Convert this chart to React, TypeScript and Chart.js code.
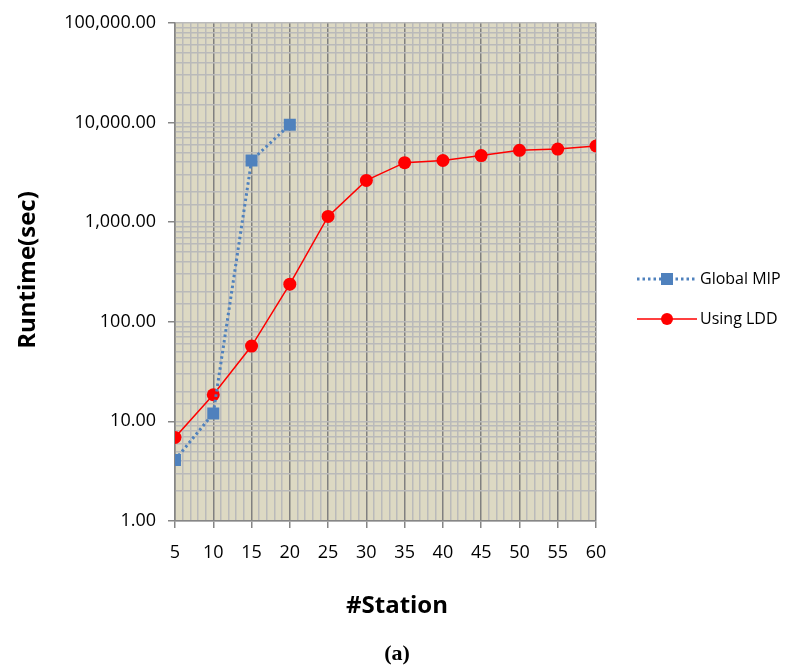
import React, { useEffect, useRef } from "react";
import { Chart, registerables } from "chart.js";

Chart.register(...registerables);

const stationsMIP = [5, 10, 15, 20];
const runtimeMIP = [4.1, 12, 4150, 9500];
const stationsLDD = [5, 10, 15, 20, 25, 30, 35, 40, 45, 50, 55, 60];
const runtimeLDD = [6.9, 18.5, 57, 238, 1140, 2620, 3950, 4150, 4650, 5250, 5400, 5800];
const seriesNames = ["Global MIP", "Using LDD"];
const xTitle = "#Station";
const yTitle = "Runtime(sec)";

const FONT = "'Open Sans', 'Noto Sans', sans-serif";
const BG = "rgb(221,217,195)";
const MINOR = "rgb(186,186,186)";
const MAJOR = "rgb(128,128,128)";
const AXIS = "rgb(134,134,134)";
const BLUE = "rgb(79,129,189)";
const RED = "rgb(255,0,0)";

const isDecade = (v: number) => {
  const r = v / Math.pow(10, Math.round(Math.log10(v)));
  return Math.abs(r - 1) < 1e-9;
};

const bgPlugin = {
  id: "plotBg",
  beforeDraw(chart: any) {
    const { ctx, chartArea: a } = chart;
    ctx.save();
    ctx.fillStyle = BG;
    ctx.fillRect(a.left, a.top, a.right - a.left, a.bottom - a.top);
    ctx.restore();
  },
};

const titlesPlugin = {
  id: "axisTitles",
  afterDraw(chart: any) {
    const { ctx } = chart;
    ctx.save();
    ctx.fillStyle = "#000";
    ctx.font = `bold 24px ${FONT}`;
    ctx.textAlign = "center";
    ctx.textBaseline = "middle";
    ctx.fillText(xTitle, 397, 606);
    ctx.translate(28, 270);
    ctx.rotate(-Math.PI / 2);
    ctx.fillText(yTitle, 0, 0);
    ctx.restore();
  },
};

const legendPlugin = {
  id: "customLegend",
  afterDraw(chart: any) {
    const { ctx } = chart;
    const rows = [279, 319];
    chart.data.datasets.forEach((ds: any, i: number) => {
      const y = rows[i];
      const x1 = 637;
      const x2 = 697;
      const cx = (x1 + x2) / 2;
      ctx.save();
      ctx.strokeStyle = ds.borderColor;
      ctx.lineWidth = ds.borderWidth;
      ctx.setLineDash(ds.borderDash || []);
      ctx.beginPath();
      ctx.moveTo(x1, y);
      ctx.lineTo(x2, y);
      ctx.stroke();
      ctx.setLineDash([]);
      ctx.fillStyle = ds.pointBackgroundColor;
      if (ds.pointStyle === "rect") {
        const s = 12;
        ctx.fillRect(cx - s / 2, y - s / 2, s, s);
      } else {
        ctx.beginPath();
        ctx.arc(cx, y, 6, 0, Math.PI * 2);
        ctx.fill();
      }
      ctx.fillStyle = "#000";
      ctx.font = `16px ${FONT}`;
      ctx.textAlign = "left";
      ctx.textBaseline = "middle";
      ctx.fillText(ds.label, x2 + 3, y);
      ctx.restore();
    });
  },
};

export default function App() {
  const ref = useRef<HTMLCanvasElement | null>(null);

  useEffect(() => {
    if (!ref.current) return;
    const chart = new Chart(ref.current, {
      type: "line",
      data: {
        datasets: [
          {
            label: seriesNames[0],
            data: stationsMIP.map((x, i) => ({ x, y: runtimeMIP[i] })),
            borderColor: BLUE,
            backgroundColor: BLUE,
            borderWidth: 3,
            borderDash: [2.5, 3],
            pointStyle: "rect",
            pointRadius: 8.5,
            pointBackgroundColor: BLUE,
            pointBorderColor: BLUE,
            pointBorderWidth: 0,
            tension: 0,
          },
          {
            label: seriesNames[1],
            data: stationsLDD.map((x, i) => ({ x, y: runtimeLDD[i] })),
            borderColor: RED,
            backgroundColor: RED,
            borderWidth: 1.5,
            pointStyle: "circle",
            pointRadius: 6.5,
            pointBackgroundColor: RED,
            pointBorderColor: RED,
            pointBorderWidth: 0,
            tension: 0,
          },
        ],
      },
      options: {
        responsive: false,
        animation: false,
        layout: { padding: { left: 0, right: 198, top: 22, bottom: 0 } },
        plugins: { legend: { display: false }, tooltip: { enabled: false } },
        scales: {
          x: {
            type: "linear",
            min: 5,
            max: 60,
            afterFit: (s: any) => {
              s.height = 147;
            },
            border: { color: AXIS, width: 1.5 },
            grid: {
              color: (c: any) => (c.tick && c.tick.value % 5 === 0 ? MAJOR : MINOR),
              lineWidth: 1.5,
              tickColor: (c: any) => (c.tick && c.tick.value % 5 === 0 ? AXIS : "rgba(0,0,0,0)"),
              tickLength: 7,
            },
            ticks: {
              stepSize: 1,
              autoSkip: false,
              maxRotation: 0,
              padding: 14,
              color: "#000",
              font: { family: FONT, size: 18 },
              callback: (v: any) => (Number(v) % 5 === 0 ? String(v) : ""),
            },
          },
          y: {
            type: "logarithmic",
            min: 1,
            max: 100000,
            afterFit: (s: any) => {
              s.width = 175;
            },
            border: { color: AXIS, width: 1.5 },
            grid: {
              color: MINOR,
              lineWidth: 1.5,
              tickColor: (c: any) => (c.tick && isDecade(c.tick.value) ? AXIS : "rgba(0,0,0,0)"),
              tickLength: 7,
            },
            ticks: {
              autoSkip: false,
              padding: 12,
              color: "#000",
              font: { family: FONT, size: 18 },
              callback: (v: any) =>
                isDecade(Number(v))
                  ? Number(v).toLocaleString("en-US", { minimumFractionDigits: 2, maximumFractionDigits: 2 })
                  : "",
            },
          },
        },
      },
      plugins: [bgPlugin, titlesPlugin, legendPlugin],
    } as any);
    return () => chart.destroy();
  }, []);

  return (
    <div style={{ position: "fixed", left: 0, top: 0, width: 794, height: 668, background: "#fff" }}>
      <canvas ref={ref} width={794} height={668} style={{ display: "block" }} />
      <div
        style={{
          position: "absolute",
          left: 0,
          width: 794,
          top: 639,
          textAlign: "center",
          fontFamily: "'Liberation Serif', 'DejaVu Serif', serif",
          fontSize: 22,
          fontWeight: "bold",
          lineHeight: "28px",
        }}
      >
        (a)
      </div>
    </div>
  );
}
